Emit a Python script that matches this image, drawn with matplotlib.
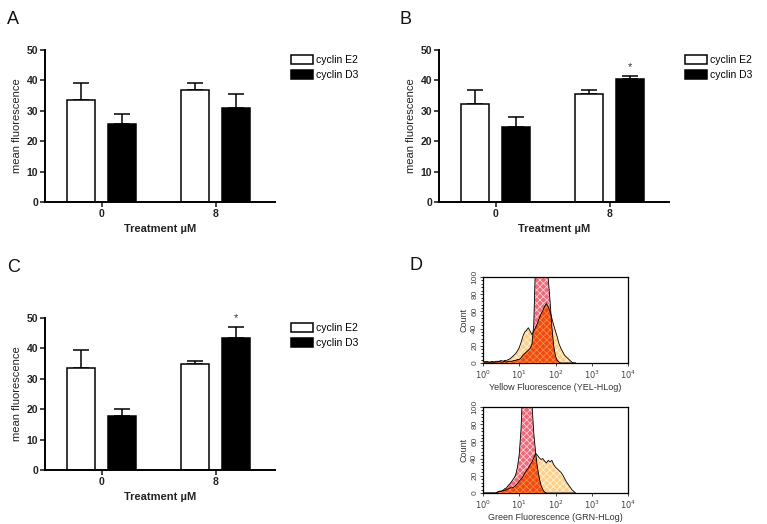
import numpy as np
import matplotlib
matplotlib.use("Agg")
import matplotlib.pyplot as plt

plt.rcParams['font.family'] = ['Liberation Sans', 'DejaVu Sans']

# ---------------- data ----------------
groups = ["0", "8"]
series = ["cyclin E2", "cyclin D3"]

A_e2 = [33.5, 36.8]; A_e2_err = [5.8, 2.5]
A_d3 = [25.7, 31.0]; A_d3_err = [3.1, 4.4]

B_e2 = [32.2, 35.4]; B_e2_err = [4.5, 1.3]
B_d3 = [24.8, 40.6]; B_d3_err = [3.2, 0.8]

C_e2 = [33.7, 34.8]; C_e2_err = [5.9, 1.1]
C_d3 = [17.8, 43.3]; C_d3_err = [2.3, 3.6]

# flow histograms: bin centres in log10 units (0.05 decade steps)
log_bins = [round(0.05 * i, 2) for i in range(52)]

yel_treated = [2, 1, 2, 1, 1, 2, 1, 2, 2, 2, 3, 2, 3, 3, 4, 5, 7, 9, 11, 14,
               18, 24, 31, 36, 38, 41, 37, 33, 37, 41, 46, 52, 57, 61, 66, 69,
               65, 60, 52, 44, 37, 30, 22, 17, 13, 9, 7, 5, 3, 1, 0, 0]
yel_control = [2, 1, 1, 1, 1, 1, 1, 1, 1, 2, 1, 1, 2, 1, 2, 2, 2, 3, 3, 4,
               4, 6, 9, 11, 13, 15, 17, 22, 45, 120, 150, 160, 170, 165, 140, 118,
               98, 72, 42, 20, 8, 3, 1, 0, 0, 0, 0, 0, 0, 0, 0, 0]

grn_treated = [0, 0, 0, 0, 0, 0, 0, 0, 1, 2, 2, 3, 3, 4, 5, 6, 6, 7, 9, 11,
               14, 16, 19, 23, 26, 29, 33, 36, 41, 46, 44, 41, 39, 40, 37, 35,
               38, 36, 38, 33, 30, 28, 26, 24, 21, 17, 13, 10, 7, 4, 2, 0]
grn_control = [0, 0, 0, 0, 0, 0, 0, 0, 1, 2, 2, 3, 5, 6, 9, 11, 14, 17, 21, 30,
               45, 75, 130, 160, 170, 160, 140, 105, 70, 48, 30, 18, 9, 4, 1, 0,
               0, 0, 0, 0, 0, 0, 0, 0, 0, 0, 0, 0, 0, 0, 0, 0]

W, H = 767, 524
fig = plt.figure(figsize=(W / 100, H / 100), dpi=100)


def ax_px(l, t, r, b):
    return fig.add_axes([l / W, 1 - b / H, (r - l) / W, (b - t) / H])


def bar_panel(ax, e2, e2e, d3, d3e, star=False):
    x = np.arange(len(groups))
    off, w = 0.18, 0.245
    ax.bar(x - off, e2, w, color='white', edgecolor='black', linewidth=1.1,
           label=series[0], zorder=2)
    ax.bar(x + off, d3, w, color='black', edgecolor='black', linewidth=1.1,
           label=series[1], zorder=2)
    for xs, v, e in ((x - off, e2, e2e), (x + off, d3, d3e)):
        ax.errorbar(xs, v, yerr=[np.zeros(len(v)), e], fmt='none',
                    ecolor='black', elinewidth=1.1, capsize=5.8, capthick=1.1,
                    zorder=1)
    if star:
        ax.text(x[1] + off, d3[1] + d3e[1] + 1.5, '*', ha='center',
                va='bottom', fontsize=8, color='#333333')
    ax.set_xlim(-0.5, 1.52)
    ax.set_ylim(0, 50)
    ax.set_yticks([0, 10, 20, 30, 40, 50])
    ax.set_xticks(x)
    ax.set_xticklabels(groups)
    for s in ('top', 'right'):
        ax.spines[s].set_visible(False)
    for s in ('left', 'bottom'):
        ax.spines[s].set_linewidth(1.4)
    ax.tick_params(width=1.2, length=3.5, labelsize=7.5, colors='#222222',
                   pad=1.5)
    for lab in ax.get_xticklabels() + ax.get_yticklabels():
        lab.set_fontweight('bold')
    ax.set_ylabel('mean fluorescence', fontsize=8, labelpad=3, color='#222222')
    ax.set_xlabel('Treatment µM', fontsize=8, fontweight='bold', labelpad=4,
                  color='#222222')
    ax.legend(loc='upper left', bbox_to_anchor=(1.05, 0.995), frameon=False,
              fontsize=7.5, handlelength=2.1, handleheight=0.9,
              handletextpad=0.3, labelspacing=0.5, borderaxespad=0)


axA = ax_px(45, 50, 275, 202)
bar_panel(axA, A_e2, A_e2_err, A_d3, A_d3_err)
axB = ax_px(439, 50, 669, 202)
bar_panel(axB, B_e2, B_e2_err, B_d3, B_d3_err, star=True)
axC = ax_px(45, 318, 275, 470)
bar_panel(axC, C_e2, C_e2_err, C_d3, C_d3_err, star=True)

plt.rcParams['hatch.linewidth'] = 0.6


def hist_panel(ax, treated, control, xlabel):
    xs = np.power(10.0, np.array(log_bins))
    t = np.array(treated, dtype=float)
    c = np.array(control, dtype=float)
    ov = np.minimum(t, c)
    ax.fill_between(xs, 0, t, facecolor='#fcd089', edgecolor='#fff2d8',
                    hatch='xxxxx', linewidth=0, zorder=1)
    ax.fill_between(xs, 0, c, facecolor='#ee6a78', edgecolor='#ffd0d6',
                    hatch='xxxxx', linewidth=0, zorder=2)
    ax.fill_between(xs, 0, ov, facecolor='#f04a0c', edgecolor='#f68a50',
                    hatch='xxxxx', linewidth=0, zorder=3)
    ax.plot(xs, t, color='black', lw=0.6, zorder=4)
    ax.plot(xs, c, color='black', lw=0.6, zorder=4)
    ax.set_xscale('log')
    ax.set_xlim(1, 1e4)
    ax.set_ylim(0, 100)
    ax.set_xticks([1, 10, 100, 1000, 10000])
    ax.set_xticklabels([r'$10^{0}$', r'$10^{1}$', r'$10^{2}$', r'$10^{3}$',
                        r'$10^{4}$'])
    ax.xaxis.set_minor_locator(matplotlib.ticker.NullLocator())
    ax.set_yticks([0, 20, 40, 60, 80, 100])
    ax.set_yticks(np.arange(0, 101, 4), minor=True)
    ax.tick_params(axis='y', labelsize=6, rotation=90, length=2.5, width=0.7,
                   pad=1, colors='#444444')
    ax.tick_params(axis='y', which='minor', length=1.5, width=0.6)
    for lab in ax.get_yticklabels():
        lab.set_va('center')
    ax.tick_params(axis='x', labelsize=6, length=2.5, width=0.7, pad=1.5,
                   colors='#444444')
    for s in ax.spines.values():
        s.set_linewidth(0.9)
    ax.set_ylabel('Count', fontsize=6.5, labelpad=2, color='#333333')
    ax.set_xlabel(xlabel, fontsize=6.5, labelpad=1.5, color='#333333')


axD1 = ax_px(483, 277, 628, 363)
hist_panel(axD1, yel_treated, yel_control, 'Yellow Fluorescence (YEL-HLog)')
axD2 = ax_px(483, 407, 628, 493)
hist_panel(axD2, grn_treated, grn_control, 'Green Fluorescence (GRN-HLog)')

for lab, (px, py) in {'A': (7, 20), 'B': (399, 20), 'C': (7, 267),
                      'D': (410, 265)}.items():
    fig.text(px / W, 1 - py / H, lab, fontsize=13, ha='left', va='center',
             color='#111111')

fig.savefig('out.png', dpi=100)
